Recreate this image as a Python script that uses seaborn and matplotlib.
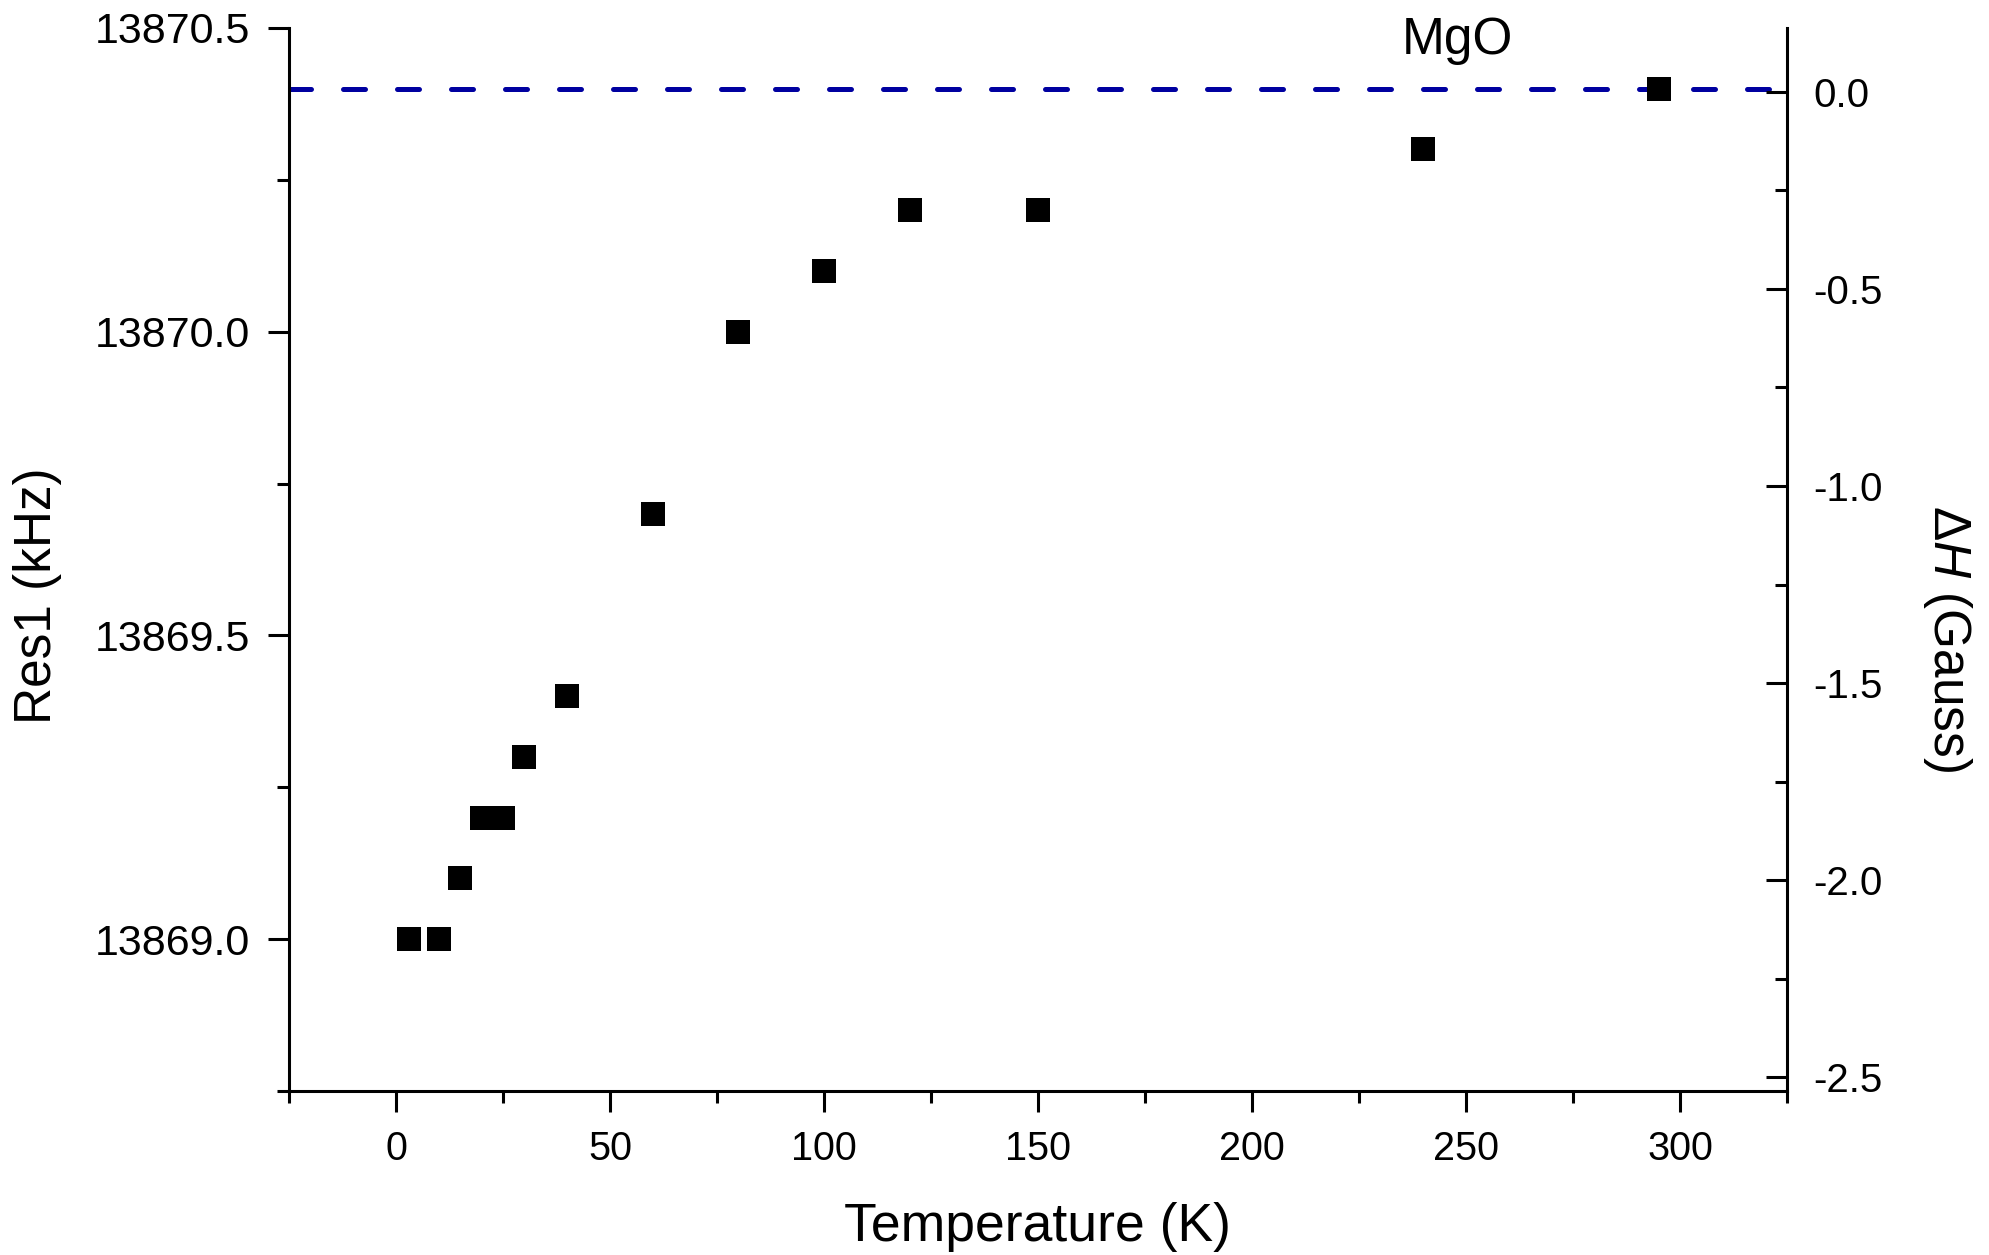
import matplotlib
matplotlib.use("Agg")
import matplotlib.pyplot as plt
import seaborn as sns
import numpy as np
import pandas as pd
from matplotlib.ticker import MultipleLocator, FormatStrFormatter

# ---- data ----
temperature_K = [3, 10, 15, 20, 25, 30, 40, 60, 80, 100, 120, 150, 240, 295]
res1_kHz = [13869.0, 13869.0, 13869.1, 13869.2, 13869.2, 13869.3, 13869.4,
            13869.7, 13870.0, 13870.1, 13870.2, 13870.2, 13870.3, 13870.4]
reference_level = 13870.4
label_text = "MgO"
x_ticks = [0, 50, 100, 150, 200, 250, 300]
left_ticks = [13869.0, 13869.5, 13870.0, 13870.5]
right_ticks = [-2.5, -2.0, -1.5, -1.0, -0.5, 0.0]

df = pd.DataFrame({"T": temperature_K, "Res1": res1_kHz})

sns.set_theme(style="ticks")
plt.rcParams["font.family"] = ["Liberation Sans", "DejaVu Sans"]
plt.rcParams["axes.unicode_minus"] = False
plt.rcParams["mathtext.fontset"] = "custom"
plt.rcParams["mathtext.rm"] = "Liberation Sans"
plt.rcParams["mathtext.it"] = "Liberation Sans:italic"
plt.rcParams["text.color"] = "black"
plt.rcParams["axes.labelcolor"] = "black"
plt.rcParams["xtick.color"] = "black"
plt.rcParams["ytick.color"] = "black"
plt.rcParams["xtick.labelcolor"] = "black"
plt.rcParams["ytick.labelcolor"] = "black"

fig = plt.figure(figsize=(19.9, 12.55), dpi=100)
ax = fig.add_axes([0.1452, 0.1307, 0.898 - 0.1452, 0.9777 - 0.1307])

sns.scatterplot(data=df, x="T", y="Res1", marker="s", color="black",
                s=290, linewidth=0, ax=ax, zorder=3)
ax.axhline(reference_level, color="#0000A0", lw=3.6, ls=(0, (4.4, 6.4)),
           dash_capstyle="round", zorder=2)

ax.set_xlim(-25, 325)
ax.set_ylim(13868.75, 13870.5)
ax.set_xticks(x_ticks)
ax.xaxis.set_minor_locator(MultipleLocator(25))
ax.set_yticks(left_ticks)
ax.yaxis.set_minor_locator(MultipleLocator(0.25))
ax.yaxis.set_major_formatter(FormatStrFormatter("%.1f"))

for s in ["top", "right"]:
    ax.spines[s].set_visible(False)
for s in ["left", "bottom"]:
    ax.spines[s].set_linewidth(2.2)
    ax.spines[s].set_color("black")

ax.tick_params(axis="both", which="major", direction="out", length=15, width=2.2,
               color="black", labelcolor="black")
ax.tick_params(axis="both", which="minor", direction="out", length=8.5, width=2.2,
               color="black")
ax.tick_params(axis="y", which="major", labelsize=31, pad=13)
ax.tick_params(axis="x", which="major", labelsize=28.5, pad=13)

ax.set_xlabel("Temperature (K)", fontsize=38.5, color="black")
ax.set_ylabel("Res1 (kHz)", fontsize=37, color="black")
ax.xaxis.label.set_va("center")
ax.yaxis.label.set_va("center")
ax.xaxis.set_label_coords(0.5, -0.128)
ax.yaxis.set_label_coords(-0.1676, 0.466)

ax.text(248, 13870.48, label_text, ha="center", va="center", fontsize=37,
        color="black")

ax2 = ax.twinx()
ax2.set_ylim(-2.535, 0.162)
ax2.set_yticks(right_ticks)
ax2.yaxis.set_minor_locator(MultipleLocator(0.25))
ax2.yaxis.set_major_formatter(FormatStrFormatter("%.1f"))
for s in ["top", "left", "bottom"]:
    ax2.spines[s].set_visible(False)
ax2.spines["right"].set_linewidth(2.2)
ax2.spines["right"].set_color("black")
ax2.tick_params(axis="y", which="major", direction="in", length=15, width=2.2,
                labelsize=29, pad=19, color="black", labelcolor="black")
ax2.tick_params(axis="y", which="minor", direction="in", length=8.5, width=2.2,
                color="black")
ax2.set_ylabel(r"$\Delta\mathit{H}$ (Gauss)", fontsize=37, rotation=270,
               color="black")
ax2.yaxis.label.set_va("center")
ax2.yaxis.label.set_ha("center")
ax2.yaxis.set_label_coords(1.107, 0.426)
ax2.grid(False)
ax.grid(False)

fig.savefig("out.png", dpi=100)
